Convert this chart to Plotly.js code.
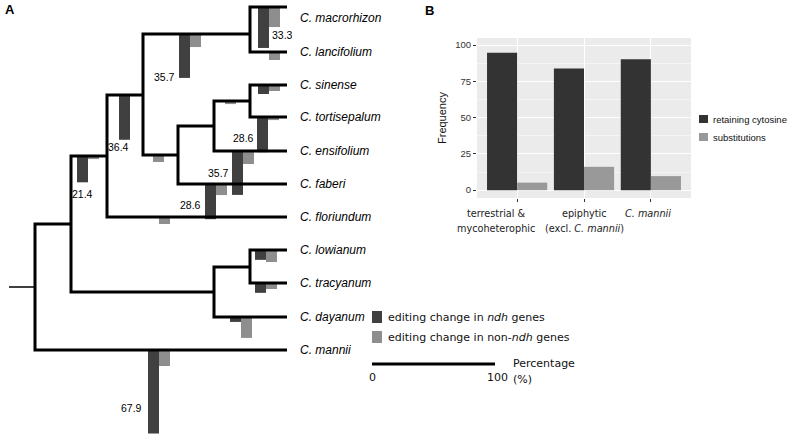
<!DOCTYPE html>
<html>
<head>
<meta charset="utf-8">
<script src="https://cdn.plot.ly/plotly-3.0.1.min.js"></script>
<style>html,body{margin:0;padding:0;background:#fff;}#chart{width:789px;height:435px;}</style>
</head>
<body>
<div id="chart"></div>
<script>
// ---------- Panel A: tree ----------
const nodeNames  = ['root','C','B','A','ML','C. macrorhizon','C. lancifolium','STEF','STE','ST','C. sinense','C. tortisepalum','C. ensifolium','C. faberi','C. floriundum','LTD','LT','C. lowianum','C. tracyanum','C. dayanum','C. mannii'];
const nodeParent = [null,'root','C','B','A','ML','ML','A','STEF','STE','ST','ST','STE','STEF','B','C','LTD','LT','LT','LTD','root'];
const nodeX      = [35,71,107,143,250,287,287,178,214,250,287,287,287,287,287,214,250,287,287,287,287];
const nodeY      = [287,224,156,95,34,7,52,155,126,101,85,117,151,184,217,292,267,250,283,317,350];
const rootStemX  = [9,35];

const speciesNames  = ['C. macrorhizon','C. lancifolium','C. sinense','C. tortisepalum','C. ensifolium','C. faberi','C. floriundum','C. lowianum','C. tracyanum','C. dayanum','C. mannii'];
const speciesLabelY = [18,52,85,117,151,184,217,250,283,317,350];

// editing change bars (percentage) on branches
const barBranch    = ['C. macrorhizon','C. lancifolium','ML','C. sinense','C. tortisepalum','ST','C. ensifolium','STEF','C. faberi','A','C. floriundum','B','C. lowianum','C. tracyanum','C. dayanum','C. mannii'];
const ndhChange    = [33.3,0,35.7,7.3,28.6,0,35.7,0,28.6,36.4,0,21.4,8.0,8.0,4.0,67.9];
const nonNdhChange = [16.3,6.5,10.6,4.9,2.5,2.5,10.6,5.7,9.0,0,5.7,2.5,9.8,4.9,17.0,13.0];
const barLeftX     = [258,258,179,258,257,214,232,142,205,119,148,77,255,255,230,148];

const valueLabels      = ['33.3','35.7','36.4','21.4','28.6','35.7','28.6','67.9'];
const valueLabelX      = [270,177,118,82,256,231,203,144];
const valueLabelY      = [35,77,147,194,138,173,205,408];
const valueLabelAnchor = ['left','right','center','center','right','right','right','right'];

const legendALabels = ['editing change in <i>ndh</i> genes','editing change in non-<i>ndh</i> genes'];
const scaleBarValues = [0,100];

// ---------- Panel B ----------
const groupKeys        = ['terr','epi','mannii'];
const groupLabelLine1  = ['terrestrial &','epiphytic','<i>C. mannii</i>'];
const groupLabelLine2  = ['mycoheterophic','(excl. <i>C. mannii</i>)',''];
const groupLabelShift  = [-21,0,-3];
const retainingCytosine = [94.8,83.9,90.3];
const substitutions     = [5.2,16.1,9.7];
const yTicksB = [0,25,50,75,100];
const legendBLabels = ['retaining cytosine','substitutions'];

// ---------- constants ----------
const PX_PER_PCT = 1.23;
const BAR_W = 11;
const DARK_A = '#404040', LIGHT_A = '#8e8e8e';
const DARK_B = '#333333', LIGHT_B = '#999999';
const SANS = 'Liberation Sans, Arial, sans-serif';
const DEJAVU = 'DejaVu Sans, sans-serif';

// tree segments
const idx = {};
nodeNames.forEach((n,i)=>idx[n]=i);
const lx=[], ly=[];
nodeNames.forEach((n,i)=>{
  const p = nodeParent[i];
  if(p===null) return;
  const j = idx[p];
  lx.push(nodeX[j], nodeX[j], nodeX[i], null);
  ly.push(nodeY[j], nodeY[i], nodeY[i], null);
});
const rootY = nodeY[idx['root']];

const branchY = barBranch.map(b=>nodeY[idx[b]]);

const traces = [
  {type:'bar', x:barLeftX, y:ndhChange.map(v=>v*PX_PER_PCT), base:branchY, offset:0, width:BAR_W,
   marker:{color:DARK_A, line:{width:0}}, xaxis:'x', yaxis:'y', hoverinfo:'skip'},
  {type:'bar', x:barLeftX, y:nonNdhChange.map(v=>v*PX_PER_PCT), base:branchY, offset:BAR_W, width:BAR_W,
   marker:{color:LIGHT_A, line:{width:0}}, xaxis:'x', yaxis:'y', hoverinfo:'skip'},
  {type:'scatter', mode:'lines', x:lx, y:ly, line:{color:'#000', width:3}, xaxis:'x', yaxis:'y', hoverinfo:'skip', connectgaps:false},
  {type:'scatter', mode:'lines', x:rootStemX, y:[rootY,rootY], line:{color:'#000', width:1.5}, xaxis:'x', yaxis:'y', hoverinfo:'skip'},
  // scale bar
  {type:'scatter', mode:'lines', x:scaleBarValues.map(v=>372+v*PX_PER_PCT), y:[364,364], line:{color:'#000', width:3}, xaxis:'x', yaxis:'y', hoverinfo:'skip'},
  // panel B
  {type:'bar', x:groupKeys, y:retainingCytosine, offset:-0.45, width:0.45, marker:{color:DARK_B, line:{width:0}}, xaxis:'x2', yaxis:'y2', name:legendBLabels[0]},
  {type:'bar', x:groupKeys, y:substitutions, offset:0, width:0.45, marker:{color:LIGHT_B, line:{width:0}}, xaxis:'x2', yaxis:'y2', name:legendBLabels[1]}
];

const ann = [];
speciesNames.forEach((s,i)=>{
  ann.push({x:298, y:speciesLabelY[i], xref:'x', yref:'y', text:'<i>'+s+'</i>', showarrow:false, xanchor:'left', yanchor:'middle',
    font:{family:SANS, size:12, color:'#000'}});
});
valueLabels.forEach((t,i)=>{
  ann.push({x:valueLabelX[i], y:valueLabelY[i], xref:'x', yref:'y', text:t, showarrow:false, xanchor:valueLabelAnchor[i], yanchor:'middle',
    font:{family:SANS, size:10.5, color:'#000'}});
});
ann.push({x:3, y:9, xref:'x', yref:'y', text:'<b>A</b>', showarrow:false, xanchor:'left', yanchor:'middle', font:{family:SANS, size:13, color:'#000'}});
ann.push({x:423, y:10, xref:'x', yref:'y', text:'<b>B</b>', showarrow:false, xanchor:'left', yanchor:'middle', font:{family:SANS, size:13, color:'#000'}});
legendALabels.forEach((t,i)=>{
  ann.push({x:386, y:317+20*i, xref:'x', yref:'y', text:t, showarrow:false, xanchor:'left', yanchor:'middle', font:{family:DEJAVU, size:11, color:'#111'}});
});
ann.push({x:372, y:377, xref:'x', yref:'y', text:String(scaleBarValues[0]), showarrow:false, xanchor:'center', yanchor:'middle', font:{family:DEJAVU, size:11, color:'#111'}});
ann.push({x:497, y:377, xref:'x', yref:'y', text:String(scaleBarValues[1]), showarrow:false, xanchor:'center', yanchor:'middle', font:{family:DEJAVU, size:11, color:'#111'}});
ann.push({x:511, y:363, xref:'x', yref:'y', text:'Percentage', showarrow:false, xanchor:'left', yanchor:'middle', font:{family:DEJAVU, size:11, color:'#111'}});
ann.push({x:511, y:379, xref:'x', yref:'y', text:'(%)', showarrow:false, xanchor:'left', yanchor:'middle', font:{family:DEJAVU, size:11, color:'#111'}});
legendBLabels.forEach((t,i)=>{
  ann.push({x:711, y:119+18*i, xref:'x', yref:'y', text:t, showarrow:false, xanchor:'left', yanchor:'middle', font:{family:SANS, size:9.5, color:'#111'}});
});
// panel B category labels, placed at the category positions of the x2 axis
groupKeys.forEach((k,i)=>{
  ann.push({x:k, xref:'x2', y:213, yref:'y', xshift:groupLabelShift[i], text:groupLabelLine1[i], showarrow:false, xanchor:'center', yanchor:'middle',
    font:{family:DEJAVU, size:9.7, color:'#222'}});
  if(groupLabelLine2[i]) ann.push({x:k, xref:'x2', y:228, yref:'y', xshift:groupLabelShift[i], text:groupLabelLine2[i], showarrow:false, xanchor:'center', yanchor:'middle',
    font:{family:DEJAVU, size:9.7, color:'#222'}});
});

const shapes = [
  {type:'rect', xref:'x2 domain', yref:'y2 domain', x0:0, x1:1, y0:0, y1:1, fillcolor:'#EBEBEB', line:{width:0}, layer:'below'},
  {type:'rect', xref:'x', yref:'y', x0:372, x1:382, y0:311, y1:323, fillcolor:DARK_A, line:{width:0}},
  {type:'rect', xref:'x', yref:'y', x0:372, x1:382, y0:331, y1:343, fillcolor:LIGHT_A, line:{width:0}},
  {type:'rect', xref:'x', yref:'y', x0:699, x1:708, y0:115, y1:123, fillcolor:DARK_B, line:{width:0}},
  {type:'rect', xref:'x', yref:'y', x0:699, x1:708, y0:133, y1:141, fillcolor:LIGHT_B, line:{width:0}}
];

const layout = {
  width:789, height:435, margin:{l:0,r:0,t:0,b:0},
  paper_bgcolor:'#fff', plot_bgcolor:'rgba(0,0,0,0)',
  showlegend:false, barmode:'overlay',
  xaxis:{domain:[0,1], range:[0,789], visible:false, fixedrange:true},
  yaxis:{domain:[0,1], range:[435,0], visible:false, fixedrange:true},
  xaxis2:{domain:[477/789, 691/789], anchor:'y2', type:'category', range:[-0.6,2.6],
    categoryorder:'array', categoryarray:groupKeys, showticklabels:false,
    showgrid:true, gridcolor:'#fff', gridwidth:1, zeroline:false, showline:false,
    ticks:'outside', ticklen:3, tickwidth:1, tickcolor:'#333'},
  yaxis2:{domain:[1-198/435, 1-38/435], anchor:'x2', range:[-5.4,104.9],
    tickmode:'array', tickvals:yTicksB, ticktext:yTicksB.map(String),
    showgrid:true, gridcolor:'#fff', gridwidth:1, zeroline:false, showline:false,
    minor:{tickmode:'array', tickvals:[12.5,37.5,62.5,87.5], showgrid:true, gridcolor:'#fff', gridwidth:0.5, ticks:''},
    ticks:'outside', ticklen:3, tickwidth:1, tickcolor:'#333',
    tickfont:{family:SANS, size:9.5, color:'#333'},
    title:{text:'Frequency', font:{family:SANS, size:11, color:'#111'}, standoff:6}},
  annotations:ann, shapes:shapes
};

Plotly.newPlot('chart', traces, layout, {staticPlot:true, displayModeBar:false});
</script>
</body>
</html>
